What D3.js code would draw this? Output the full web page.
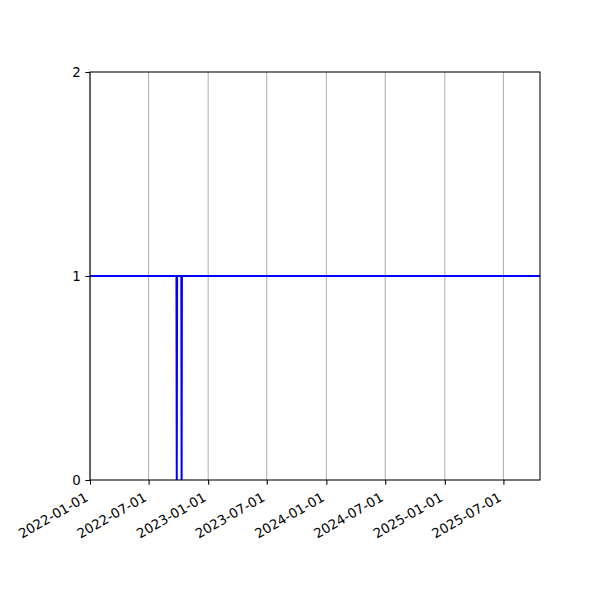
<!DOCTYPE html>
<html><head><meta charset="utf-8">
<script src="https://cdn.jsdelivr.net/npm/d3@7"></script>
<style>body{margin:0;background:#fff}svg{display:block}</style>
</head><body>
<script>
const dates = ["2022-01-01","2022-09-25","2022-09-26","2022-09-27","2022-10-10","2022-10-11","2022-10-12","2025-10-22"];
const values = [1,1,0,1,1,0,1,1];
const xTickLabels = ["2022-01-01","2022-07-01","2023-01-01","2023-07-01","2024-01-01","2024-07-01","2025-01-01","2025-07-01"];
const yTicks = [0,1,2];

const W=600,H=600, m={l:90,r:60,t:72,b:120};
const parse=d3.utcParse("%Y-%m-%d");
const data=dates.map((d,i)=>({d:parse(d),v:values[i]}));
const svg=d3.select("body").append("svg").attr("width",W).attr("height",H);
const x=d3.scaleUtc().domain([parse("2022-01-01"),parse("2025-10-22")]).range([m.l,W-m.r]);
const y=d3.scaleLinear().domain([0,2]).range([H-m.b,m.t]);
const font="DejaVu Sans";

// grid
svg.append("g").selectAll("line").data(xTickLabels).join("line")
 .attr("x1",d=>x(parse(d))).attr("x2",d=>x(parse(d)))
 .attr("y1",m.t).attr("y2",H-m.b).attr("stroke","#b0b0b0").attr("stroke-width",1.07);

svg.append("defs").append("clipPath").attr("id","c").append("rect")
 .attr("x",m.l).attr("y",m.t).attr("width",W-m.l-m.r).attr("height",H-m.t-m.b);

svg.append("path").datum(data).attr("clip-path","url(#c)")
 .attr("d",d3.line().x(d=>x(d.d)).y(d=>y(d.v)))
 .attr("fill","none").attr("stroke","#0000ff").attr("stroke-width",2);

// axes
const xa=svg.append("g").attr("transform",`translate(0,${H-m.b})`)
 .call(d3.axisBottom(x).tickValues(xTickLabels.map(parse)).tickFormat(d3.utcFormat("%Y-%m-%d")).tickSizeInner(4.67).tickSizeOuter(0).tickPadding(4.67));
xa.select(".domain").remove();
xa.selectAll("line").attr("stroke","#000").attr("stroke-width",1.07);
xa.selectAll(".tick text").attr("font-family",font).attr("font-size","13.33px").attr("fill","#000")
 .attr("text-anchor","end").attr("x",0).attr("y",0).attr("dy",null)
 .attr("transform","translate(-1.5,20) rotate(-30)");

const ya=svg.append("g").attr("transform",`translate(${m.l},0)`)
 .call(d3.axisLeft(y).tickValues(yTicks).tickFormat(d3.format("d")).tickSizeInner(4.67).tickSizeOuter(0).tickPadding(4.67));
ya.select(".domain").remove();
ya.selectAll("line").attr("stroke","#000").attr("stroke-width",1.07);
ya.selectAll("text").attr("font-family",font).attr("font-size","13.33px").attr("fill","#000");

svg.append("rect").attr("x",m.l).attr("y",m.t).attr("width",W-m.l-m.r).attr("height",H-m.t-m.b)
 .attr("fill","none").attr("stroke","#000").attr("stroke-width",1.07);
</script>
</body></html>
